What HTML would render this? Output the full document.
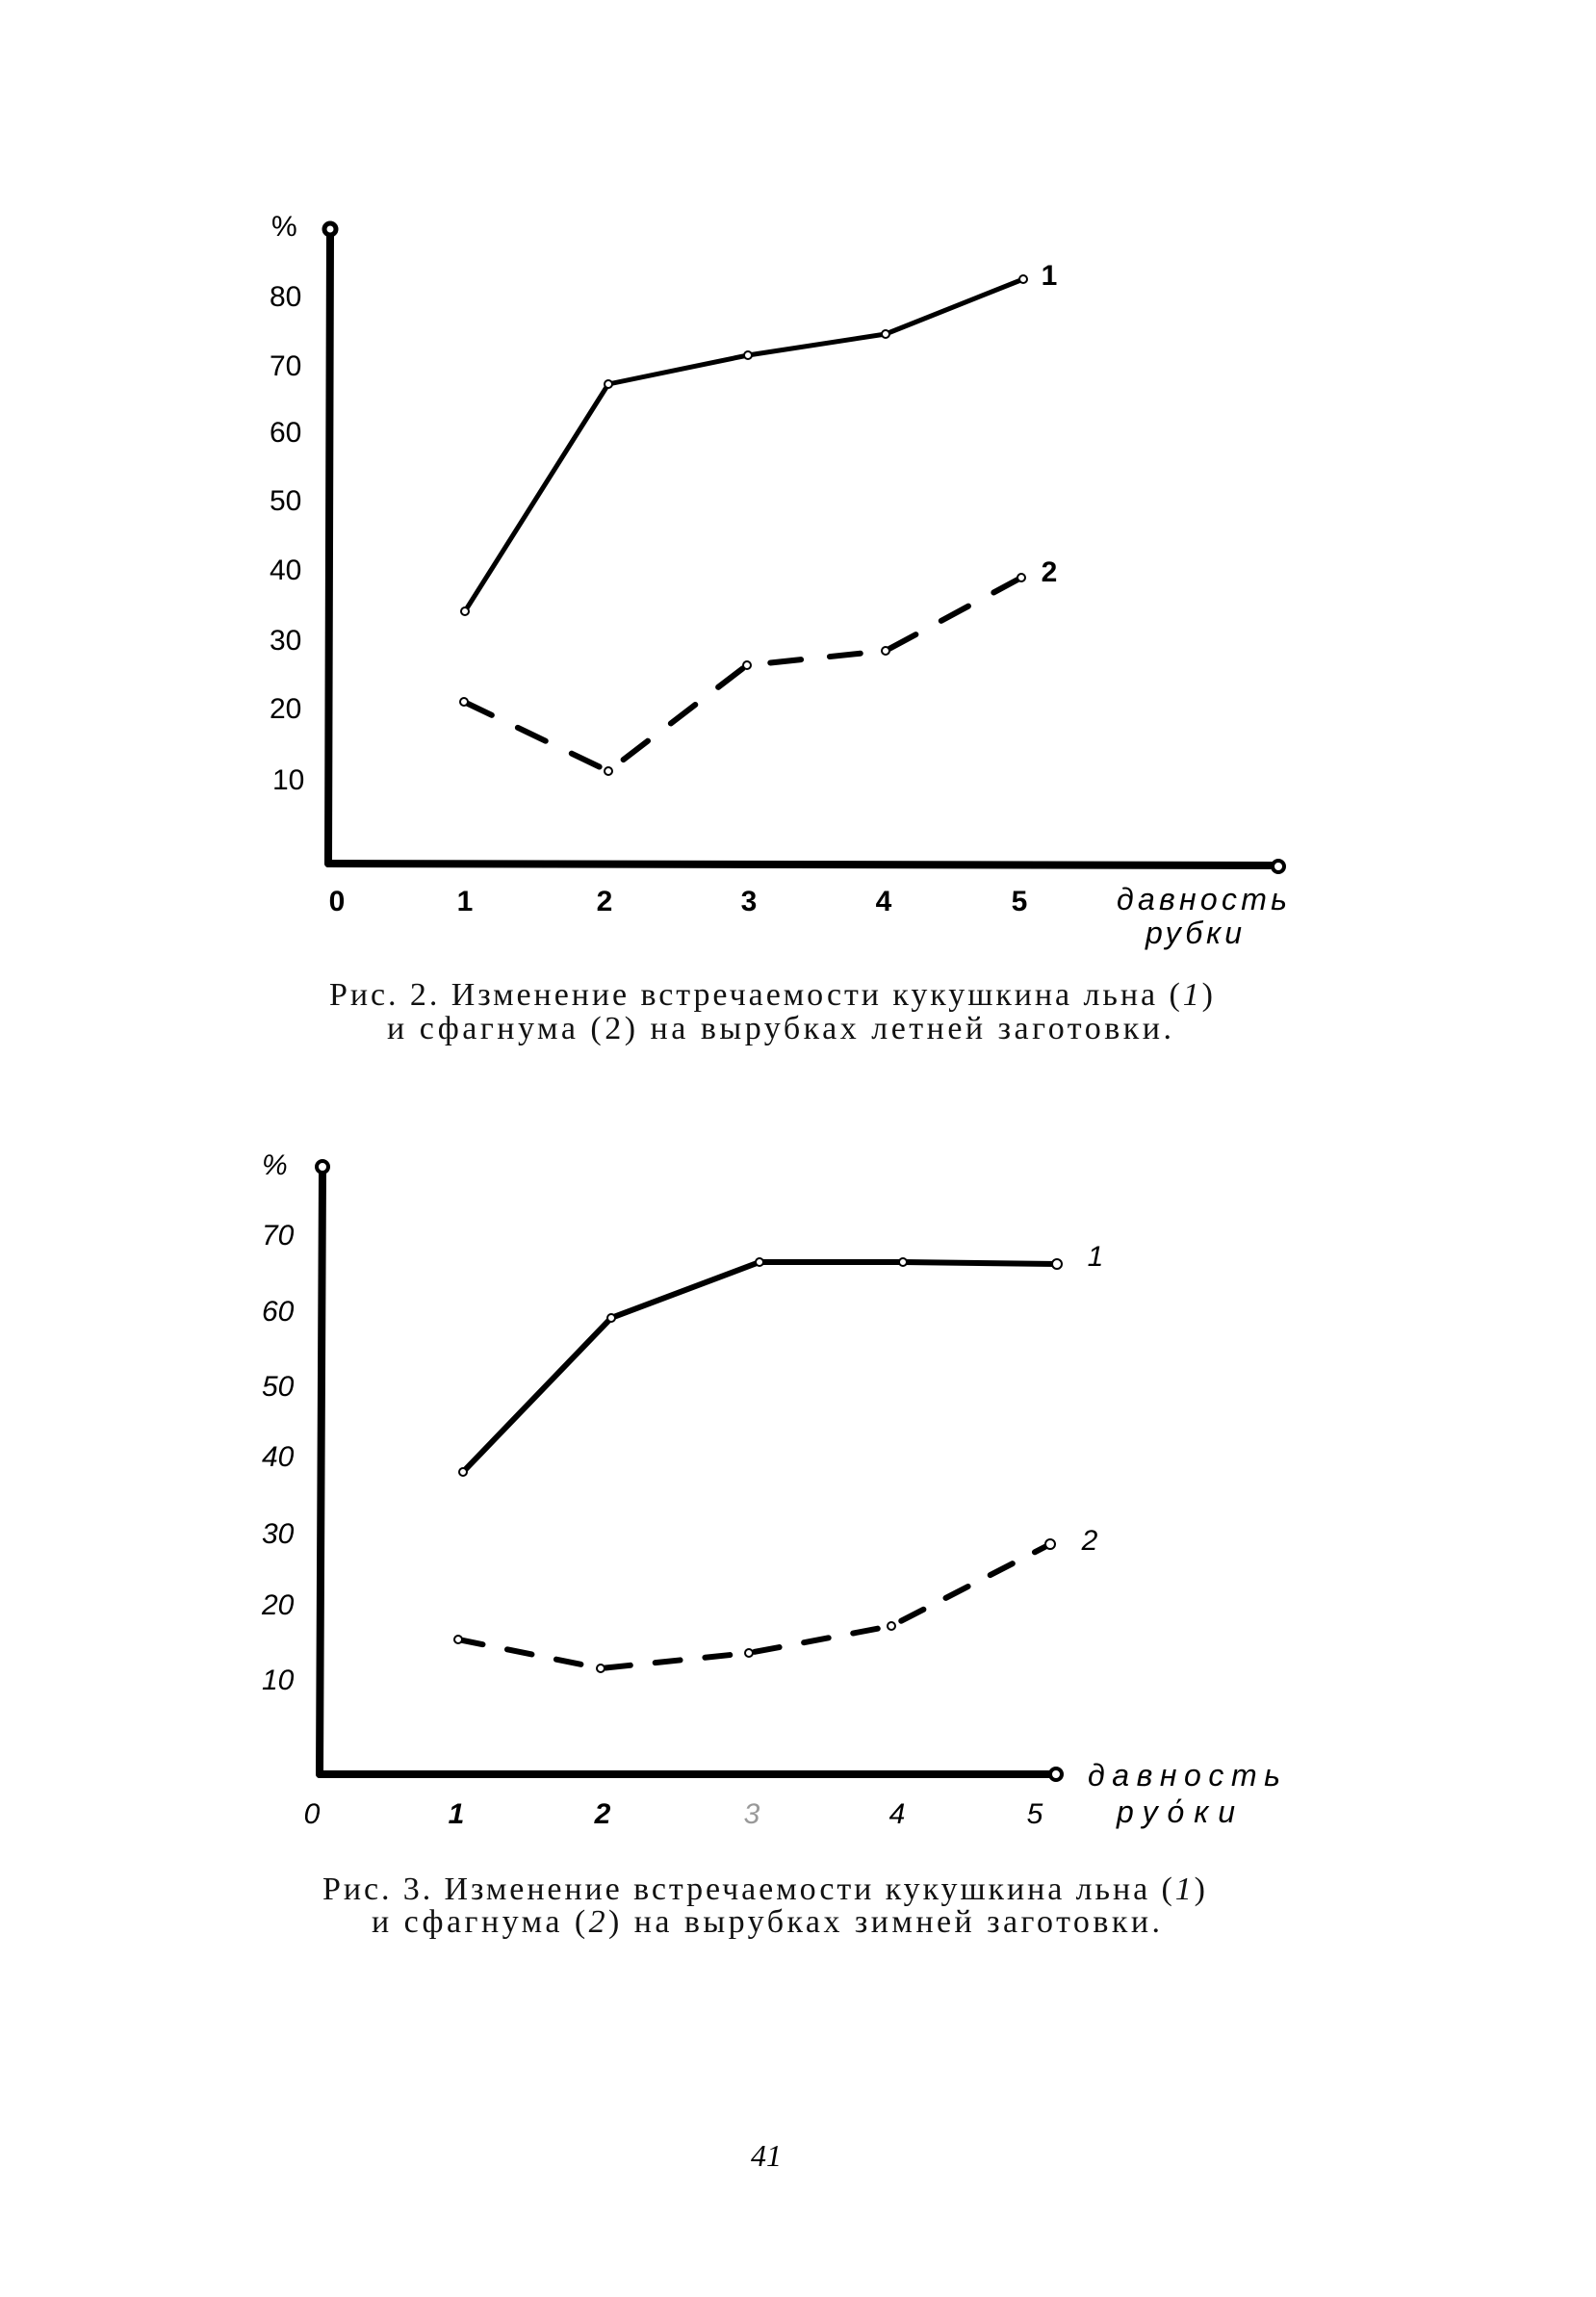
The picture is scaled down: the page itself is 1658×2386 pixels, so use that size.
<!DOCTYPE html>
<html><head><meta charset="utf-8"><style>
html,body{margin:0;padding:0;background:#fff}
svg{display:block}
.t{font-family:"Liberation Sans",sans-serif;font-size:30px;fill:#000}
.c{font-family:"Liberation Serif",serif;font-size:34px;fill:#111}
.h{font-family:"Liberation Sans",sans-serif;font-style:italic;font-size:32px;fill:#000}
</style></head><body>
<svg width="1658" height="2386" viewBox="0 0 1658 2386" xmlns="http://www.w3.org/2000/svg">
<g stroke="#000" fill="none" stroke-linecap="round" stroke-linejoin="round">
<!-- chart 1 axes -->
<line x1="343" y1="243" x2="341" y2="897" stroke-width="8"/>
<line x1="341" y1="897" x2="1322" y2="899" stroke-width="8"/>
<circle cx="343" cy="238" r="6" stroke-width="5" fill="#fff"/>
<circle cx="1328" cy="900" r="6" stroke-width="4" fill="#fff"/>
<polyline points="483,635 632,399 777,369 920,347 1063,290" stroke-width="5"/>
<polyline points="482,729 632,801 776,691 920,676 1061,600" stroke-width="6" stroke-dasharray="32,30"/>
<g stroke-width="2" fill="#fff">
<circle cx="483" cy="635" r="4"/><circle cx="632" cy="399" r="4"/><circle cx="777" cy="369" r="4"/><circle cx="920" cy="347" r="4"/><circle cx="1063" cy="290" r="4"/>
<circle cx="482" cy="729" r="4"/><circle cx="632" cy="801" r="4"/><circle cx="776" cy="691" r="4"/><circle cx="920" cy="676" r="4"/><circle cx="1061" cy="600" r="4"/>
</g>
<!-- chart 2 axes -->
<line x1="335" y1="1218" x2="332" y2="1843" stroke-width="8"/>
<line x1="332" y1="1843" x2="1091" y2="1843" stroke-width="8"/>
<circle cx="335" cy="1212" r="6" stroke-width="4" fill="#fff"/>
<circle cx="1097" cy="1843" r="6" stroke-width="4" fill="#fff"/>
<polyline points="481,1529 635,1369 789,1311 938,1311 1098,1313" stroke-width="6"/>
<polyline points="476,1703 624,1733 778,1717 926,1689 1091,1604" stroke-width="6" stroke-dasharray="26,26"/>
<g stroke-width="2" fill="#fff">
<circle cx="481" cy="1529" r="4"/><circle cx="635" cy="1369" r="4"/><circle cx="789" cy="1311" r="4"/><circle cx="938" cy="1311" r="4"/><circle cx="1098" cy="1313" r="5"/>
<circle cx="476" cy="1703" r="4"/><circle cx="624" cy="1733" r="4"/><circle cx="778" cy="1717" r="4"/><circle cx="926" cy="1689" r="4"/><circle cx="1091" cy="1604" r="5"/>
</g>
</g>
<!-- chart 1 labels -->
<g class="t">
<text x="282" y="245" font-size="30">%</text>
<text x="280" y="318">80</text><text x="280" y="390">70</text><text x="280" y="459">60</text><text x="280" y="530">50</text><text x="280" y="602">40</text><text x="280" y="675">30</text><text x="280" y="746">20</text><text x="283" y="820">10</text>
<g font-weight="bold" text-anchor="middle">
<text x="350" y="946">0</text><text x="483" y="946">1</text><text x="628" y="946">2</text><text x="778" y="946">3</text><text x="918" y="946">4</text><text x="1059" y="946">5</text>
<text x="1090" y="296">1</text><text x="1090" y="604">2</text>
</g>
</g>
<text class="h" x="1160" y="945" textLength="177">давность</text>
<text class="h" x="1190" y="980" textLength="100">рубки</text>
<text class="c" x="342" y="1044" textLength="918">Рис. 2. Изменение встречаемости кукушкина льна (<tspan font-style="italic">1</tspan>)</text>
<text class="c" x="402" y="1079" textLength="815">и сфагнума (2) на вырубках летней заготовки.</text>
<!-- chart 2 labels -->
<g class="t" font-style="italic">
<text x="272" y="1220">%</text>
<text x="272" y="1293">70</text><text x="272" y="1372">60</text><text x="272" y="1450">50</text><text x="272" y="1523">40</text><text x="272" y="1603">30</text><text x="272" y="1677">20</text><text x="272" y="1755">10</text>
<g text-anchor="middle">
<text x="324" y="1894">0</text><text x="474" y="1894" font-weight="bold">1</text><text x="626" y="1894" font-weight="bold">2</text><text x="781" y="1894" fill="#999">3</text><text x="932" y="1894">4</text><text x="1075" y="1894">5</text>
<text x="1138" y="1315">1</text><text x="1132" y="1610">2</text>
</g>
</g>
<text class="h" x="1130" y="1855" textLength="200">давность</text>
<text class="h" x="1160" y="1893" textLength="123">руόки</text>
<text class="c" x="335" y="1973" textLength="917">Рис. 3. Изменение встречаемости кукушкина льна (<tspan font-style="italic">1</tspan>)</text>
<text class="c" x="386" y="2007" textLength="819">и сфагнума (<tspan font-style="italic">2</tspan>) на вырубках зимней заготовки.</text>
<text x="780" y="2250" font-family="Liberation Serif,serif" font-style="italic" font-size="32" fill="#000">41</text>
</svg>
</body></html>
